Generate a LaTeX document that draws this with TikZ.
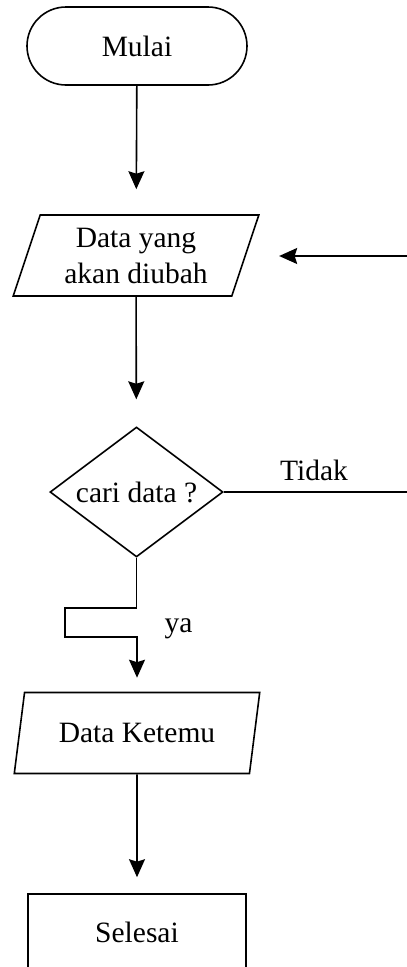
\documentclass[tikz,border=0pt]{standalone}
\usepackage{fontspec}
\setmainfont{Liberation Serif}
\usetikzlibrary{shapes.geometric,shapes.misc,arrows.meta}
\begin{document}
\begin{tikzpicture}[x=1pt,y=-1pt,
  line width=1.6pt,
  font=\fontsize{29.5}{36}\selectfont,
  base/.style={draw, inner sep=0pt, align=center},
  terminal/.style={base, rounded rectangle, minimum width=220pt, minimum height=78pt},
  iobox/.style={base, trapezium, trapezium left angle=70, trapezium right angle=110,
    trapezium stretches=true, minimum width=246pt, minimum height=81pt},
  decision/.style={base, diamond, aspect=1.33, minimum width=173pt, minimum height=130pt},
  process/.style={base, rectangle, minimum width=218pt, minimum height=76pt},
  arr/.style={-{Stealth[length=18pt,width=16pt,inset=2.5pt]}},
  lbl/.style={inner sep=0pt, anchor=base}
]
\useasboundingbox (0,0) rectangle (407,967);
\clip (0,0) rectangle (407,967);

% flow nodes
\node[terminal] (mulai) at (137,46) {Mulai};
\node[iobox] (data1) at (136,255.5) {Data yang\\akan diubah};
\node[decision] (cari) at (136.5,492) {cari data ?};
\node[iobox] (data2) at (137,733) {Data Ketemu};
\node[process] (selesai) at (137,932) {Selesai};

% routing points
\coordinate (j1) at (65,608);
\coordinate (j2) at (65,637);
\coordinate (back) at (407,256);
\coordinate (tidakend) at (407,492);

% connectors
\draw[arr, shorten >=25pt] (mulai) -- (data1);
\draw[arr, shorten >=27pt] (data1) -- (cari);
\draw[arr, shorten >=14pt] (cari.south) |- (j1) -- (j2) -- (j2 -| data2.north) -- (data2.north);
\draw[arr, shorten >=16pt] (data2) -- (selesai);
\draw[arr, shorten >=33pt] (back) -- (back -| data1.east);
\draw (cari.east) -- (tidakend);

% labels
\node[lbl] (tidak) at (314,480) {Tidak};
\node[lbl] (ya) at (178.5,632) {ya};
\end{tikzpicture}
\end{document}
